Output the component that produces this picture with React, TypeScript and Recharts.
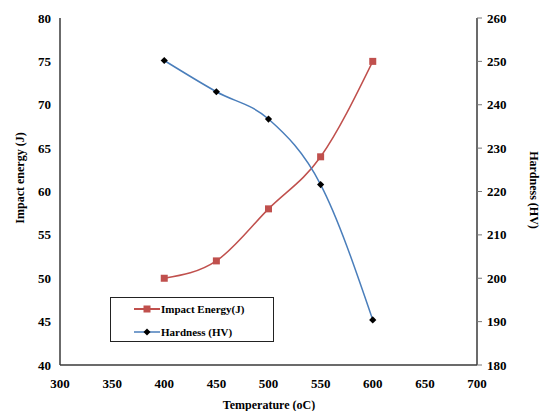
import React from "react";
import { LineChart, Line, XAxis, YAxis } from "recharts";

const temperatures = [400, 450, 500, 550, 600];
const impactEnergy = [50, 52, 58, 64, 75];
const hardness = [250.2, 243, 236.7, 221.6, 190.4];

const xTicks = [300, 350, 400, 450, 500, 550, 600, 650, 700];
const impactTicks = [40, 45, 50, 55, 60, 65, 70, 75, 80];
const hardnessTicks = [180, 190, 200, 210, 220, 230, 240, 250, 260];

const RED = "#C0504D";
const BLUE = "#4A7EBB";
const AXIS = "#3a3a3a";
const FONT = "'Liberation Serif', 'Times New Roman', serif";

const data = temperatures.map((t, i) => ({
  temp: t,
  impact: impactEnergy[i],
  hardness: hardness[i],
}));

const tickStyle = { fill: "#000", fontSize: 13, fontWeight: 700, fontFamily: FONT };

function SquareDot(props: any) {
  const { cx, cy, index } = props;
  return <rect key={`sq-${index}`} x={cx - 3.5} y={cy - 3.5} width={7} height={7} fill={RED} />;
}

function DiamondDot(props: any) {
  const { cx, cy, index } = props;
  return (
    <path
      key={`dm-${index}`}
      d={`M${cx},${cy - 3.6} L${cx + 3.6},${cy} L${cx},${cy + 3.6} L${cx - 3.6},${cy} Z`}
      fill="#000"
    />
  );
}

const titleStyle: React.CSSProperties = {
  position: "absolute",
  fontFamily: FONT,
  fontWeight: 700,
  fontSize: 12,
  color: "#000",
  whiteSpace: "nowrap",
};

export default function App() {
  return (
    <div style={{ position: "absolute", left: 0, top: 0, width: 544, height: 411, background: "#fff", overflow: "hidden" }}>
      <LineChart
        width={544}
        height={411}
        data={data}
        margin={{ top: 18, right: 17, left: 20, bottom: 0 }}
      >
        <XAxis
          dataKey="temp"
          type="number"
          domain={[300, 700]}
          ticks={xTicks}
          interval={0}
          height={46}
          tick={tickStyle}
          tickLine={false}
          tickSize={6}
          tickMargin={8}
          axisLine={{ stroke: AXIS, strokeWidth: 1.5 }}
        />
        <XAxis
          xAxisId="top"
          dataKey="temp"
          type="number"
          orientation="top"
          domain={[300, 700]}
          height={0}
          tick={false}
          tickLine={false}
          axisLine={{ stroke: AXIS, strokeWidth: 1.5 }}
        />
        <YAxis
          yAxisId="left"
          domain={[40, 80]}
          ticks={impactTicks}
          interval={0}
          width={40}
          tick={tickStyle}
          tickLine={false}
          tickSize={6}
          tickMargin={3}
          axisLine={{ stroke: AXIS, strokeWidth: 1.5 }}
        />
        <YAxis
          yAxisId="right"
          orientation="right"
          domain={[180, 260]}
          ticks={hardnessTicks}
          interval={0}
          width={50}
          tick={tickStyle}
          tickSize={5}
          tickMargin={5}
          tickLine={{ stroke: "#777", strokeWidth: 1 }}
          axisLine={{ stroke: AXIS, strokeWidth: 1.5 }}
        />
        <Line
          yAxisId="left"
          type="monotone"
          dataKey="impact"
          stroke={RED}
          strokeWidth={1.5}
          dot={SquareDot}
          activeDot={false}
          isAnimationActive={false}
        />
        <Line
          yAxisId="right"
          type="monotone"
          dataKey="hardness"
          stroke={BLUE}
          strokeWidth={1.5}
          dot={DiamondDot}
          activeDot={false}
          isAnimationActive={false}
        />
      </LineChart>

      <div style={{ ...titleStyle, left: 20, top: 178, transform: "translate(-50%, -50%) rotate(-90deg)" }}>
        Impact energy (J)
      </div>
      <div style={{ ...titleStyle, left: 533, top: 190, transform: "translate(-50%, -50%) rotate(90deg)" }}>
        Hardness (HV)
      </div>
      <div style={{ ...titleStyle, left: 269, top: 405, transform: "translate(-50%, -50%)" }}>
        Temperature (oC)
      </div>

      <div
        style={{
          position: "absolute",
          left: 110,
          top: 297,
          width: 164,
          height: 45,
          border: "1px solid #222",
          boxSizing: "border-box",
          fontFamily: FONT,
          fontWeight: 700,
          fontSize: 11,
        }}
      >
        <div style={{ position: "absolute", left: 23, top: 5, display: "flex", alignItems: "center" }}>
          <svg width={26} height={10}>
            <line x1={0} y1={5} x2={26} y2={5} stroke={RED} strokeWidth={2} />
            <rect x={9.5} y={1.5} width={7} height={7} fill={RED} />
          </svg>
          <span style={{ marginLeft: 1 }}>Impact Energy(J)</span>
        </div>
        <div style={{ position: "absolute", left: 23, top: 28, display: "flex", alignItems: "center" }}>
          <svg width={26} height={10}>
            <line x1={0} y1={5} x2={26} y2={5} stroke={BLUE} strokeWidth={1.5} />
            <path d="M13,1.5 L16.5,5 L13,8.5 L9.5,5 Z" fill="#000" />
          </svg>
          <span style={{ marginLeft: 1 }}>Hardness (HV)</span>
        </div>
      </div>
    </div>
  );
}
